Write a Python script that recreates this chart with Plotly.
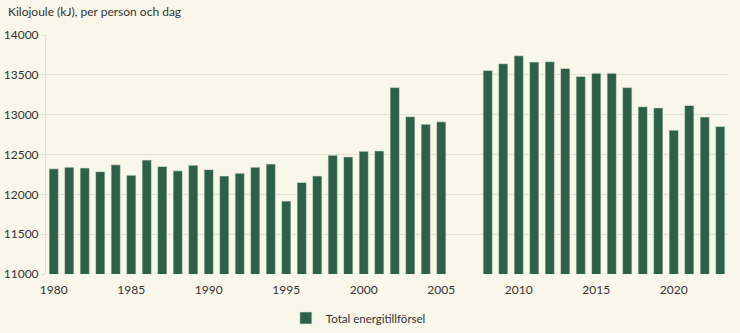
import plotly.graph_objects as go

# Total energy supply per person and day (kJ); no data for 2006-2007
years = [1980, 1981, 1982, 1983, 1984, 1985, 1986, 1987, 1988, 1989,
         1990, 1991, 1992, 1993, 1994, 1995, 1996, 1997, 1998, 1999,
         2000, 2001, 2002, 2003, 2004, 2005,
         2008, 2009, 2010, 2011, 2012, 2013, 2014, 2015, 2016, 2017,
         2018, 2019, 2020, 2021, 2022, 2023]
energy_kj = [12320, 12340, 12330, 12285, 12370, 12240, 12430, 12350, 12295, 12365,
             12310, 12230, 12265, 12340, 12380, 11915, 12150, 12230, 12490, 12470,
             12540, 12545, 13340, 12975, 12880, 12910,
             13555, 13640, 13740, 13660, 13665, 13580, 13480, 13520, 13520, 13340,
             13100, 13085, 12805, 13115, 12970, 12850]
series_name = "Total energitillförsel"
y_title = "Kilojoule (kJ), per person och dag"
x_ticks = [1980, 1985, 1990, 1995, 2000, 2005, 2010, 2015, 2020]
y_ticks = [11000, 11500, 12000, 12500, 13000, 13500, 14000]

bg = "#f9f6ea"
bar_color = "#2d6049"
grid = "#e3e1d7"
text = "#333333"
font = "Lato, Noto Sans, sans-serif"

fig = go.Figure(go.Bar(
    x=years, y=energy_kj, name=series_name,
    marker=dict(color=bar_color, line=dict(color="#dfe8da", width=0.6)),
    width=0.6,
))

fig.update_layout(
    width=740, height=333,
    margin=dict(l=46, r=12, t=35, b=59, autoexpand=False),
    paper_bgcolor=bg, plot_bgcolor=bg,
    font=dict(family=font, size=12, color=text),
    showlegend=True,
    legend=dict(orientation="h", x=0.458, xanchor="center", yref="container",
                y=0.045, yanchor="middle", itemwidth=30,
                font=dict(size=11.5, color=text), bgcolor="rgba(0,0,0,0)"),
    annotations=[dict(text=y_title, xref="paper", yref="paper", x=-0.058, y=1.06,
                      xanchor="left", yanchor="bottom", showarrow=False,
                      font=dict(size=12, color=text))],
)
fig.update_xaxes(range=[1979.5, 2023.5], tickvals=x_ticks, showgrid=False,
                 showline=False, zeroline=False, ticks="outside", ticklen=5,
                 tickcolor=bg, tickfont=dict(size=12, color=text))
fig.update_yaxes(range=[11000, 14000], tickvals=y_ticks, tickformat="d",
                 showgrid=True, gridcolor=grid, gridwidth=1, showline=True,
                 linecolor=grid, ticks="outside", ticklen=4, tickcolor=grid,
                 zeroline=False, tickfont=dict(size=12, color=text))

fig.write_html("out.html")
